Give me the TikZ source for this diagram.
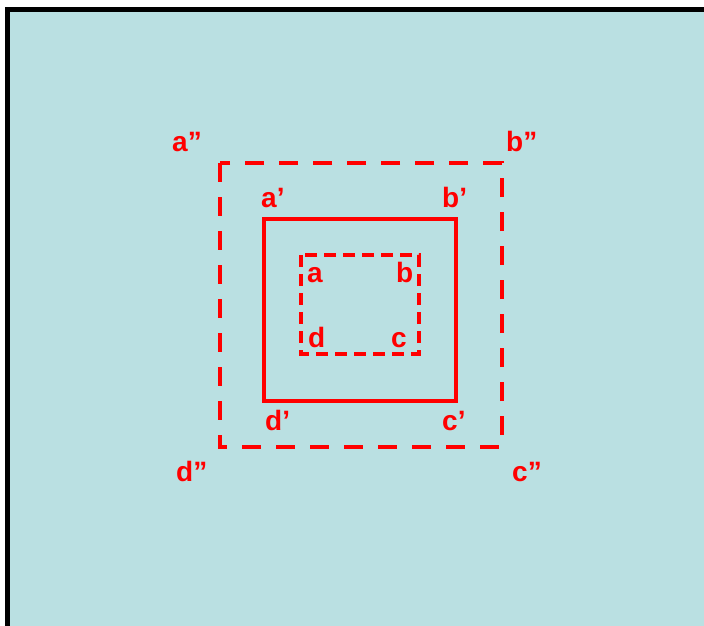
\documentclass[tikz,border=0pt]{standalone}
\usepackage{fontspec}
\setmainfont{Liberation Sans}
\definecolor{bgteal}{RGB}{186,224,226}
\definecolor{lred}{RGB}{255,0,0}
\begin{document}
\begin{tikzpicture}[x=1pt,y=-1pt,
  lbl/.style={anchor=base west,inner sep=0pt,text=lred,font=\fontsize{28}{28}\selectfont\bfseries},
  bigdash/.style={draw=lred,line width=4pt,dash pattern=on 19pt off 15pt},
  smalldash/.style={draw=lred,line width=4pt,dash pattern=on 12pt off 7pt},
  solidbox/.style={draw=lred,line width=4pt}]
\useasboundingbox (0,0) rectangle (704,625);
\fill[white] (0,0) rectangle (704,625);
\begin{scope}
\clip (0,0) rectangle (704,625);
\draw[fill=bgteal,draw=black,line width=5pt] (7.5,9.5) rectangle (720,640);
\end{scope}
\draw[bigdash] (220,163) rectangle (502,447);
\draw[solidbox] (264,219) rectangle (456,401);
\draw[smalldash] (301,255) rectangle (419,354);
\node[lbl] (a2) at (172,151) {a”};
\node[lbl] (b2) at (506,151) {b”};
\node[lbl] (a1) at (261,207) {a’};
\node[lbl] (b1) at (442,207) {b’};
\node[lbl] (a0) at (307,282) {a};
\node[lbl] (b0) at (396,282) {b};
\node[lbl] (d0) at (308,347) {d};
\node[lbl] (c0) at (391,347) {c};
\node[lbl] (d1) at (265,430) {d’};
\node[lbl] (c1) at (442,430) {c’};
\node[lbl] (d2) at (176,481) {d”};
\node[lbl] (c2) at (512,481) {c”};
\end{tikzpicture}
\end{document}
